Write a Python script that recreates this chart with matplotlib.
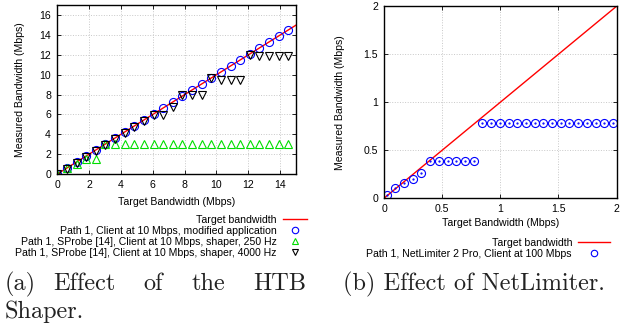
import matplotlib
matplotlib.use('Agg')
import matplotlib.pyplot as plt

# (a) HTB shaper
target_x = [0, 15]
target_y = [0, 15]
htb_x = [0, 0.6, 1.21, 1.81, 2.42, 3.02, 3.63, 4.23, 4.84, 5.44, 6.05, 6.65, 7.26,
         7.86, 8.47, 9.07, 9.68, 10.28, 10.89, 11.49, 12.1, 12.7, 13.31, 13.91, 14.52]
htb_app = [0, 0.6, 1.21, 1.81, 2.42, 3.02, 3.63, 4.23, 4.84, 5.44, 6.05, 6.65, 7.26,
           7.86, 8.47, 9.07, 9.68, 10.28, 10.89, 11.49, 12.1, 12.7, 13.31, 13.91, 14.52]
htb_250 = [0, 0.58, 1.05, 1.55, 1.55, 3.0, 3.0, 3.0, 3.0, 3.0, 3.0, 3.0, 3.0,
           3.0, 3.0, 3.0, 3.0, 3.0, 3.0, 3.0, 3.0, 3.0, 3.0, 3.0, 3.0]
htb_4000 = [0, 0.55, 1.1, 1.7, 2.3, 2.9, 3.55, 4.15, 4.75, 5.3, 5.95, 5.9, 6.8,
            7.95, 7.95, 7.95, 9.65, 9.5, 9.5, 9.5, 12.0, 11.9, 11.9, 11.9, 11.9]

# (b) NetLimiter
nl_target_x = [0, 2]
nl_target_y = [0, 2]
nl_x = [0.02, 0.095, 0.17, 0.245, 0.32, 0.395, 0.47, 0.545, 0.62, 0.695, 0.77,
        0.845, 0.92, 0.995, 1.07, 1.145, 1.22, 1.295, 1.37, 1.445, 1.52, 1.595,
        1.67, 1.745, 1.82, 1.895, 1.97]
nl_y = [0.03, 0.10, 0.16, 0.20, 0.26, 0.39, 0.39, 0.39, 0.39, 0.39, 0.39,
        0.78, 0.78, 0.78, 0.78, 0.78, 0.78, 0.78, 0.78, 0.78, 0.78, 0.78,
        0.78, 0.78, 0.78, 0.78, 0.78]

plt.rcParams['font.family'] = ['Liberation Sans', 'DejaVu Sans']
FS = 7.6

fig = plt.figure(figsize=(6.21, 3.26), dpi=100)
W, H = 621.0, 326.0


def style(ax, ylab_x, xlab_y):
    ax.grid(True, color='#c8c8c8', linestyle=':', linewidth=0.7)
    ax.set_axisbelow(True)
    ax.tick_params(direction='in', top=True, right=True, length=3, width=0.6,
                   labelsize=FS, pad=4.5)
    for s in ax.spines.values():
        s.set_linewidth(1.0)
    ax.set_xlabel('Target Bandwidth (Mbps)', fontsize=FS, va='center')
    ax.set_ylabel('Measured Bandwidth (Mbps)', fontsize=FS, va='center')
    ax.xaxis.set_label_coords(0.5, xlab_y)
    ax.yaxis.set_label_coords(ylab_x, 0.5)


ax1 = fig.add_axes([57.3 / W, 1 - 174 / H, 238.7 / W, 168.7 / H])
ax1.plot(target_x, target_y, color='red', lw=1.0, label='Target bandwidth')
ax1.plot(htb_x, htb_app, 'o', ls='none', mfc='none', mec='blue', mew=0.8, ms=5.8,
         label='Path 1, Client at 10 Mbps, modified application')
ax1.plot(htb_x, htb_250, '^', ls='none', mfc='none', mec='#00dd00', mew=0.8, ms=5.5,
         label='Path 1, SProbe [14], Client at 10 Mbps, shaper, 250 Hz')
ax1.plot(htb_x, htb_4000, 'v', ls='none', mfc='none', mec='black', mew=0.8, ms=5.5,
         label='Path 1, SProbe [14], Client at 10 Mbps, shaper, 4000 Hz')
ax1.set_xlim(0, 15)
ax1.set_ylim(0, 17)
ax1.set_xticks([0, 2, 4, 6, 8, 10, 12, 14])
ax1.set_yticks([0, 2, 4, 6, 8, 10, 12, 14, 16])
style(ax1, -0.156, -0.164)
ax1.legend(loc='upper right', bbox_to_anchor=(307 / W, 1 - 215 / H),
           bbox_transform=fig.transFigure, frameon=False, markerfirst=False,
           fontsize=FS, handlelength=2.3, handletextpad=0.55, labelspacing=0.08,
           borderpad=0, borderaxespad=0, numpoints=1, markerscale=0.8)

ax2 = fig.add_axes([384.3 / W, 1 - 198 / H, 232.2 / W, 191.7 / H])
ax2.plot(nl_target_x, nl_target_y, color='red', lw=1.0, label='Target bandwidth')
ax2.plot(nl_x, nl_y, 'o', ls='none', mfc='none', mec='blue', mew=0.8, ms=5.8,
         label='Path 1, NetLimiter 2 Pro, Client at 100 Mbps')
ax2.plot(nl_x, nl_y, '.', ls='none', color='blue', ms=1.2)
ax2.set_xlim(0, 2)
ax2.set_ylim(0, 2)
ax2.set_xticks([0, 0.5, 1, 1.5, 2])
ax2.set_xticklabels(['0', '0.5', '1', '1.5', '2'])
ax2.set_yticks([0, 0.5, 1, 1.5, 2])
ax2.set_yticklabels(['0', '0.5', '1', '1.5', '2'])
style(ax2, -0.191, -0.130)
ax2.legend(loc='upper right', bbox_to_anchor=(610 / W, 1 - 238 / H),
           bbox_transform=fig.transFigure, frameon=False, markerfirst=False,
           fontsize=FS, handlelength=3.0, handletextpad=0.6, labelspacing=0.08,
           borderpad=0, borderaxespad=0, numpoints=1, markerscale=0.8)

# captions, justified like the LaTeX subcaption
cap = dict(fontsize=17.5, family='cmr10', va='baseline', color='#222222')
for word, x in [('(a)', 5), ('Effect', 53), ('of', 143), ('the', 192), ('HTB', 253)]:
    fig.text(x / W, 1 - 290 / H, word, ha='left', **cap)
fig.text(5 / W, 1 - 318 / H, 'Shaper.', ha='left', **cap)
fig.text(342.7 / W, 1 - 290 / H, '(b) Effect of NetLimiter.', ha='left', **cap)

fig.savefig('out.png', dpi=100)
